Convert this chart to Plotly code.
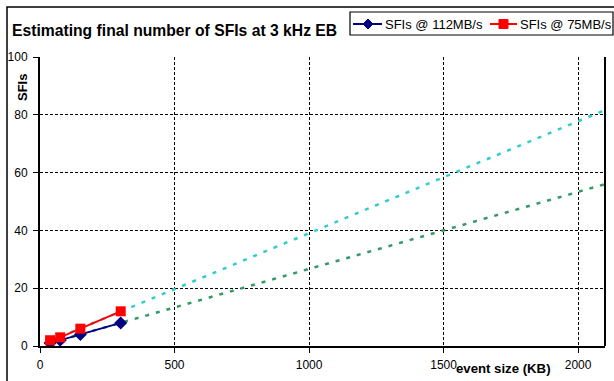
import numpy as np
import plotly.graph_objects as go

event_size_kb = [37.5, 75, 150, 300]
sfis_112 = [1, 2, 4, 8]
sfis_75 = [2, 3, 6, 12]
trend_x_end = 2100
x_ticks = [0, 500, 1000, 1500, 2000]
y_ticks = [0, 20, 40, 60, 80, 100]
series_names = ["SFIs @ 112MB/s", "SFIs @ 75MB/s"]

FONT = "Arial, Liberation Sans, sans-serif"
W, H = 614, 381
L, R, T, B = 40, 9, 57, 35
PW, PH = W - L - R, H - T - B


def px(x):
    return (x - L) / PW


def py(y):
    return (H - B - y) / PH


def trend(xs, ys):
    m, b = np.polyfit(xs, ys, 1)
    tx = [xs[0], trend_x_end]
    return tx, [m * t + b for t in tx]


fig = go.Figure()

tx, ty = trend(event_size_kb, sfis_75)
fig.add_trace(go.Scatter(x=tx, y=ty, mode="lines", showlegend=False, hoverinfo="skip",
                         line=dict(color="#33CCCC", width=2.5, dash="4px,7px")))
tx, ty = trend(event_size_kb, sfis_112)
fig.add_trace(go.Scatter(x=tx, y=ty, mode="lines", showlegend=False, hoverinfo="skip",
                         line=dict(color="#339966", width=2.5, dash="4px,7px")))

fig.add_trace(go.Scatter(x=event_size_kb, y=sfis_112, mode="lines+markers", name=series_names[0],
                         showlegend=False,
                         line=dict(color="#000080", width=2),
                         marker=dict(symbol="diamond", size=10, color="#000080")))
fig.add_trace(go.Scatter(x=event_size_kb, y=sfis_75, mode="lines+markers", name=series_names[1],
                         showlegend=False,
                         line=dict(color="#FF0000", width=2),
                         marker=dict(symbol="square", size=10, color="#FF0000")))

axis_common = dict(showline=True, linecolor="black", linewidth=2, ticks="outside", ticklen=5,
                   tickcolor="black", tickwidth=1, showgrid=True, gridcolor="black", gridwidth=1,
                   griddash="3px,2px", zeroline=False, tickfont=dict(family=FONT, size=12, color="black"))

fig.update_xaxes(range=[0, 2100], tickvals=x_ticks, ticklabelstandoff=2, **axis_common)
fig.update_yaxes(range=[0, 100], tickvals=y_ticks, ticklabelstandoff=3, **axis_common)

# manual legend geometry (pixels)
lg_y = 24
shapes = [
    dict(type="rect", xref="paper", yref="paper", x0=px(7), x1=px(700), y0=py(500), y1=py(7),
         line=dict(color="black", width=1.5), layer="below"),
    dict(type="line", xref="paper", yref="paper", x0=1, x1=1, y0=0, y1=1,
         line=dict(color="black", width=2)),
    dict(type="rect", xref="paper", yref="paper", x0=px(350), x1=px(613), y0=py(35), y1=py(12),
         line=dict(color="black", width=1.2), fillcolor="white"),
    dict(type="line", xref="paper", yref="paper", x0=px(353), x1=px(382), y0=py(lg_y), y1=py(lg_y),
         line=dict(color="#000080", width=2)),
    dict(type="path", xref="paper", yref="paper",
         path=f"M {px(368)},{py(lg_y-5)} L {px(373)},{py(lg_y)} L {px(368)},{py(lg_y+5)} L {px(363)},{py(lg_y)} Z",
         fillcolor="#000080", line=dict(color="#000080", width=1)),
    dict(type="line", xref="paper", yref="paper", x0=px(490), x1=px(517), y0=py(lg_y), y1=py(lg_y),
         line=dict(color="#FF0000", width=2)),
    dict(type="rect", xref="paper", yref="paper", x0=px(499), x1=px(508), y0=py(lg_y+4.5), y1=py(lg_y-4.5),
         fillcolor="#FF0000", line=dict(color="#FF0000", width=1)),
]

annotations = [
    dict(text="<b>Estimating final number of SFIs at 3 kHz EB</b>", xref="paper", yref="paper",
         x=px(10), y=py(31), xanchor="left", yanchor="middle", showarrow=False,
         font=dict(family=FONT, size=15.7, color="black")),
    dict(text="<b>SFIs</b>", xref="paper", yref="paper", x=px(22), y=py(88), textangle=-90,
         xanchor="center", yanchor="middle", showarrow=False,
         font=dict(family=FONT, size=13, color="black")),
    dict(text="<b>event size (KB)</b>", xref="paper", yref="paper", x=px(503.5), y=py(368),
         xanchor="center", yanchor="middle", showarrow=False,
         font=dict(family=FONT, size=13.2, color="black")),
    dict(text=series_names[0], xref="paper", yref="paper", x=px(383), y=py(lg_y),
         xanchor="left", yanchor="middle", showarrow=False,
         font=dict(family=FONT, size=13, color="black")),
    dict(text=series_names[1], xref="paper", yref="paper", x=px(518), y=py(lg_y),
         xanchor="left", yanchor="middle", showarrow=False,
         font=dict(family=FONT, size=13, color="black")),
]

fig.update_layout(
    width=W, height=H,
    margin=dict(l=L, r=R, t=T, b=B),
    paper_bgcolor="white", plot_bgcolor="white",
    font=dict(family=FONT, size=12, color="black"),
    showlegend=False,
    shapes=shapes,
    annotations=annotations,
)

fig.write_html("out.html")
